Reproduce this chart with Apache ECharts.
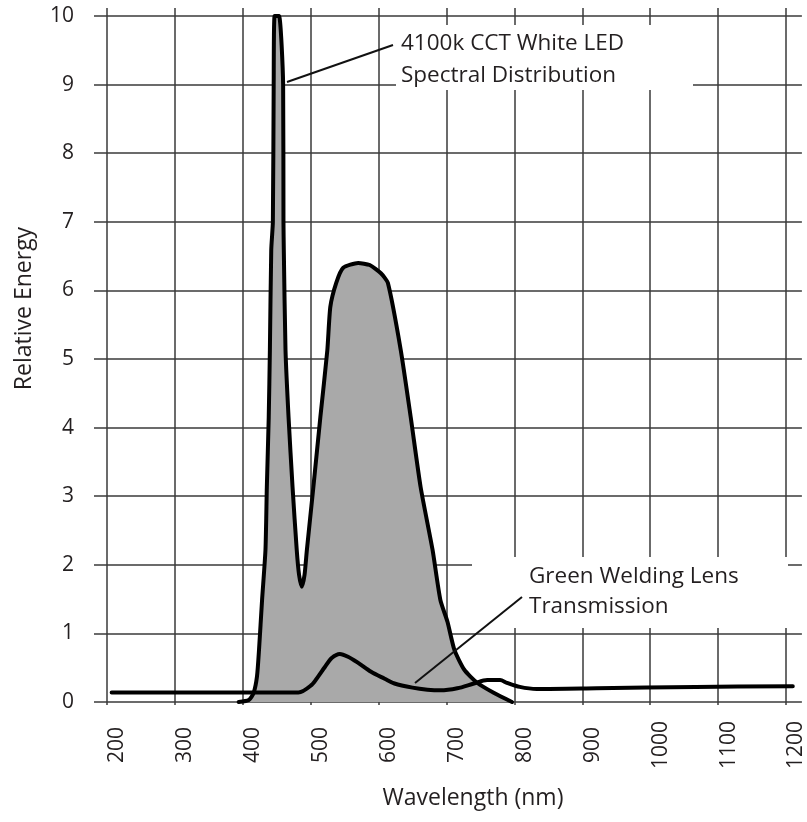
<!DOCTYPE html>
<html>
<head>
<meta charset="utf-8">
<script src="https://cdn.jsdelivr.net/npm/echarts@6/dist/echarts.min.js"></script>
<style>
html,body{margin:0;padding:0;background:#fff;}
#chart{width:807px;height:822px;}
</style>
</head>
<body>
<div id="chart"></div>
<script>
// Tick values
var xTicks = [200, 300, 400, 500, 600, 700, 800, 900, 1000, 1100, 1200];
var yTicks = [0, 1, 2, 3, 4, 5, 6, 7, 8, 9, 10];

// 4100k CCT White LED spectral distribution: [wavelength nm, relative energy]
var ledWavelength = [394, 409, 416, 421, 424, 428.5, 433.5, 435.5, 438.3, 440, 442, 444.4, 445.6, 447, 453.5, 459.5, 460, 460.5, 463, 467.5, 473.4, 479.5, 483, 487, 491, 494.5, 504, 514.3, 524.6, 529, 537.7, 548, 570, 587, 603.5, 613.7, 632.7, 647.4, 662, 679.5, 691, 701.5, 711.7, 726.3, 745.3, 770.2, 796.5];
var ledEnergy     = [0,   0.03, 0.13, 0.37, 0.76, 1.49, 2.22, 3.13, 4.15, 5.13, 6.59, 7.0, 9.0, 10.0, 10.0, 9.0, 7.0, 6.59, 5.13, 4.15, 3.13, 2.22, 1.85, 1.68, 1.85, 2.22, 3.13, 4.15, 5.13, 5.76, 6.11, 6.33, 6.40, 6.37, 6.25, 6.11, 5.13, 4.15, 3.13, 2.22, 1.49, 1.17, 0.76, 0.47, 0.28, 0.13, 0];

// Green welding lens transmission: [wavelength nm, relative value]
var lensWavelength = [207, 300, 400, 482, 501.6, 511, 521, 531, 543, 555, 570, 589, 609, 623.5, 650, 672, 691, 716, 740.5, 760, 779, 789, 808, 833, 921, 1067, 1210];
var lensEnergy     = [0.14, 0.14, 0.14, 0.14, 0.25, 0.37, 0.51, 0.64, 0.70, 0.66, 0.57, 0.44, 0.34, 0.27, 0.21, 0.18, 0.17, 0.20, 0.27, 0.32, 0.32, 0.28, 0.22, 0.19, 0.20, 0.22, 0.23];

function pairs(a, b) { return a.map(function (v, i) { return [v, b[i]]; }); }

var FONT = '"Open Sans", "Noto Sans", sans-serif';
var TXT = '#231f20';
var GRIDC = '#3a3a3a';

var chart = echarts.init(document.getElementById('chart'), null, {renderer: 'canvas'});
chart.setOption({
  animation: false,
  backgroundColor: '#ffffff',
  grid: {left: 94, right: 0, top: 8, bottom: 117, containLabel: false},
  xAxis: {
    type: 'value',
    min: 181,
    max: 1223.4,
    name: 'Wavelength (nm)',
    nameLocation: 'middle',
    nameGap: 82,
    nameTextStyle: {fontFamily: FONT, fontSize: 23, color: TXT, padding: [0, 0, 0, 50]},
    axisLine: {show: false},
    axisTick: {show: false, customValues: xTicks},
    axisLabel: {
      customValues: xTicks,
      rotate: 90,
      margin: 40,
      align: 'center',
      verticalAlign: 'top',
      formatter: function (v) { return String(v); },
      fontFamily: FONT, fontSize: 21, color: TXT
    },
    splitLine: {show: true, lineStyle: {color: GRIDC, width: 1.5}}
  },
  yAxis: {
    type: 'value',
    min: -0.0437,
    max: 10.117,
    name: 'Relative Energy',
    nameLocation: 'middle',
    nameGap: 58,
    nameRotate: 90,
    nameTextStyle: {fontFamily: FONT, fontSize: 23, color: TXT, padding: [0, 0, 0, 96]},
    axisLine: {show: false},
    axisTick: {show: false, customValues: yTicks},
    axisLabel: {customValues: yTicks, margin: 20, fontFamily: FONT, fontSize: 21, color: TXT},
    splitLine: {show: true, lineStyle: {color: GRIDC, width: 1.5}}
  },
  series: [
    {
      name: '4100k CCT White LED Spectral Distribution',
      type: 'line',
      data: pairs(ledWavelength, ledEnergy),
      showSymbol: false,
      smooth: 0.2,
      clip: true,
      lineStyle: {color: '#000', width: 4, join: 'round', cap: 'round'},
      areaStyle: {color: '#a9a9a9', opacity: 1, origin: 0},
      z: 3
    },
    {
      name: 'Green Welding Lens Transmission',
      type: 'line',
      data: pairs(lensWavelength, lensEnergy),
      showSymbol: false,
      smooth: 0.3,
      lineStyle: {color: '#000', width: 4, join: 'round', cap: 'round'},
      z: 4
    }
  ],
  graphic: [
    {type: 'rect', z: 50, shape: {x: 396, y: 25, width: 297, height: 65}, style: {fill: '#fff'}},
    {type: 'text', z: 51, x: 401, y: 28, style: {text: '4100k CCT White LED\nSpectral Distribution', font: '22.5px ' + FONT, fill: TXT, lineHeight: 32, verticalAlign: 'top'}},
    {type: 'line', z: 52, shape: {x1: 287, y1: 82, x2: 393, y2: 45}, style: {stroke: '#111', lineWidth: 2}},
    {type: 'rect', z: 50, shape: {x: 472, y: 557, width: 316, height: 71}, style: {fill: '#fff'}},
    {type: 'text', z: 51, x: 529, y: 562, style: {text: 'Green Welding Lens\nTransmission', font: '22.5px ' + FONT, fill: TXT, lineHeight: 30, verticalAlign: 'top'}},
    {type: 'line', z: 52, shape: {x1: 415, y1: 683, x2: 522, y2: 597}, style: {stroke: '#111', lineWidth: 2}}
  ]
});
</script>
</body>
</html>
